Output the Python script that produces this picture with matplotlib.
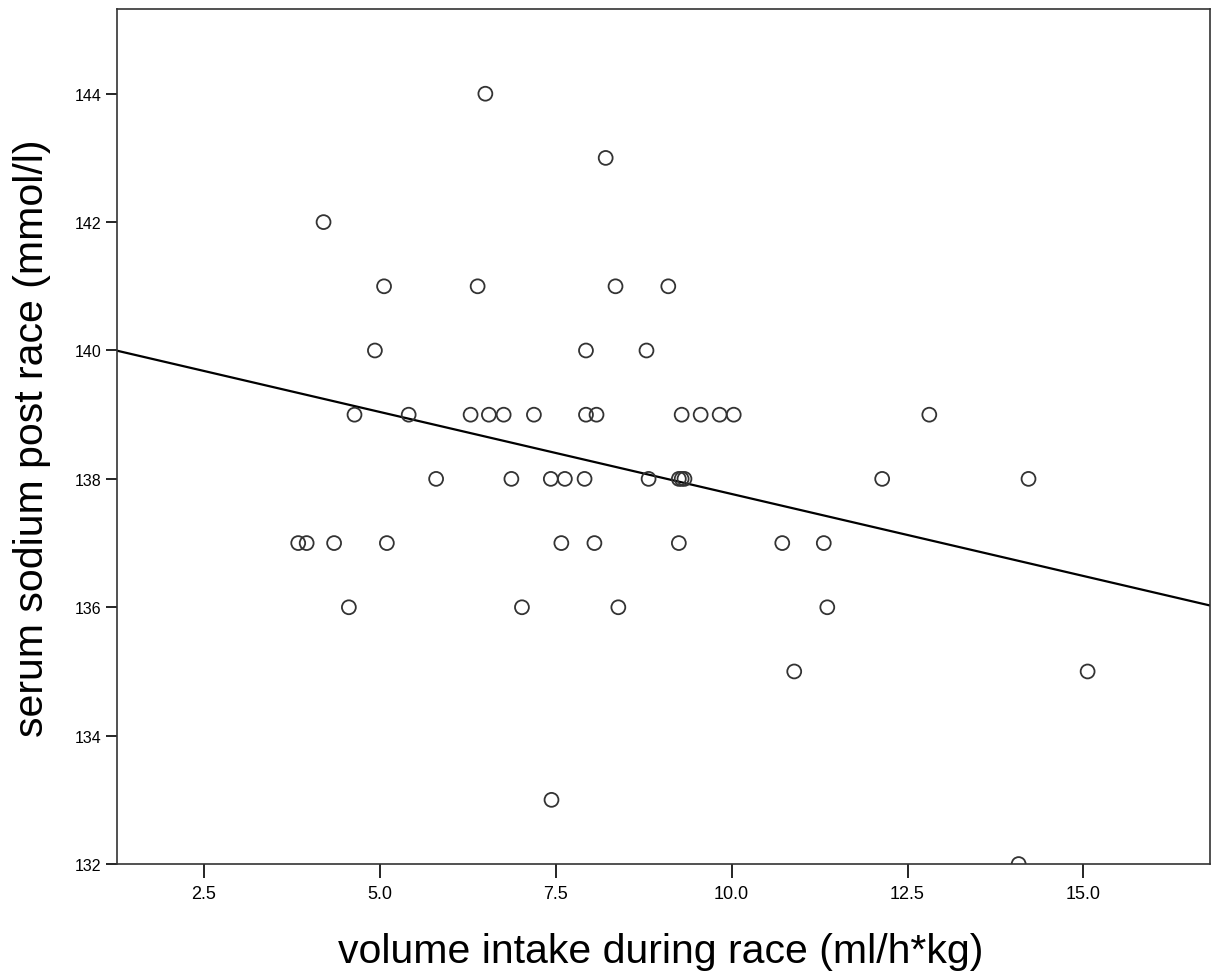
import matplotlib
matplotlib.use("Agg")
import matplotlib.pyplot as plt
from matplotlib import font_manager
import numpy as np

# volume intake (ml/h*kg) vs serum sodium post race (mmol/l)
volume_intake = [
    6.50, 8.21, 4.20,
    5.06, 6.39, 8.35, 9.10,
    4.93, 7.93, 8.79,
    4.64, 5.41, 6.29, 6.55, 6.76, 7.19, 7.93, 8.08, 9.29, 9.56, 9.83, 10.03, 12.81,
    5.80, 6.87, 7.43, 7.63, 7.91, 8.82, 9.25, 9.29, 9.33, 12.14, 14.22,
    3.84, 3.96, 4.35, 5.10, 7.58, 8.05, 9.25, 10.72, 11.31,
    4.56, 7.02, 8.39, 11.36,
    10.89, 15.06,
    7.44,
    14.08,
]
serum_sodium = [
    144, 143, 142,
    141, 141, 141, 141,
    140, 140, 140,
    139, 139, 139, 139, 139, 139, 139, 139, 139, 139, 139, 139, 139,
    138, 138, 138, 138, 138, 138, 138, 138, 138, 138, 138,
    137, 137, 137, 137, 137, 137, 137, 137, 137,
    136, 136, 136, 136,
    135, 135,
    133,
    132,
]

# fit line as drawn in the original
fit_intercept = 140.32
fit_slope = -0.2555

x_ticks = [2.5, 5.0, 7.5, 10.0, 12.5, 15.0]
y_ticks = [132, 134, 136, 138, 140, 142, 144]

plt.rcParams["font.family"] = ["Liberation Sans", "DejaVu Sans"]

# narrow font for the x tick labels if it is there
names = {f.name for f in font_manager.fontManager.ttflist}
if "Liberation Sans Narrow" in names:
    xtick_font, xtick_size = "Liberation Sans Narrow", 15
else:
    xtick_font, xtick_size = "Liberation Sans", 13

fig = plt.figure(figsize=(12.11, 9.79), dpi=100)
ax = fig.add_axes([0.0966, 0.1164, 0.9026, 0.8734])

ax.scatter(volume_intake, serum_sodium, s=100, facecolors="none",
           edgecolors="#333333", linewidths=1.3, zorder=3)
ax.axline((0, fit_intercept), slope=fit_slope, color="black", lw=1.6, zorder=2)

ax.set_xlim(1.264, 16.80)
ax.set_ylim(132, 145.32)
ax.set_xticks(x_ticks)
ax.set_xticklabels([f"{t:.1f}" for t in x_ticks])
ax.set_yticks(y_ticks)

for s in ax.spines.values():
    s.set_linewidth(1.2)
    s.set_color("#333333")

ax.tick_params(axis="x", direction="out", length=10, width=1.2, pad=5)
ax.tick_params(axis="y", direction="out", length=8, width=1.2, labelsize=11.5, pad=3)
for lab in ax.get_xticklabels():
    lab.set_family(xtick_font)
    lab.set_fontsize(xtick_size)

ax.set_xlabel("volume intake during race (ml/h*kg)", fontsize=29.5)
ax.xaxis.label.set_va("baseline")
ax.xaxis.set_label_coords(0.497, -0.1146)

ax.set_ylabel("serum sodium post race (mmol/l)", fontsize=29.5)
ax.yaxis.set_label_coords(-0.0604, 0.4994)

fig.savefig("out.png", dpi=100)
